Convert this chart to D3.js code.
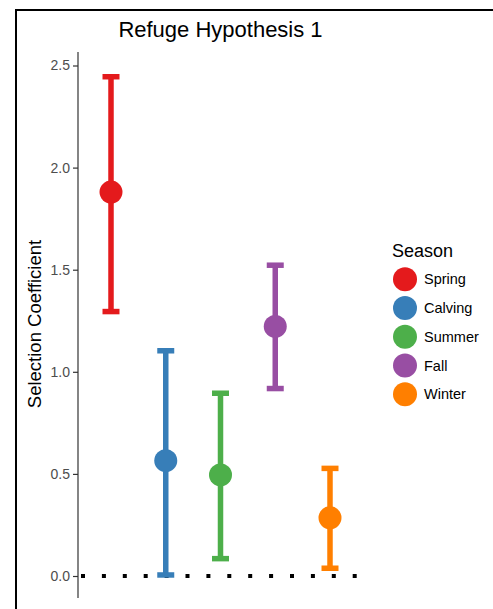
<!DOCTYPE html>
<html>
<head>
<meta charset="utf-8">
<script src="https://cdn.jsdelivr.net/npm/d3@7"></script>
<style>
  html, body { margin: 0; padding: 0; background: #fff; }
  svg { display: block; font-family: "Liberation Sans", Arial, sans-serif; }
</style>
</head>
<body>
<script>
// Selection coefficient estimates with confidence limits, by season
const seasons = ["Spring", "Calving", "Summer", "Fall", "Winter"];
const estimates = [1.88, 0.565, 0.495, 1.222, 0.285];
const lower = [1.295, 0.005, 0.085, 0.918, 0.038];
const upper = [2.445, 1.103, 0.895, 1.522, 0.527];
const seasonColors = ["#E41A1C", "#377EB8", "#4DAF4A", "#984EA3", "#FF7F00"];
const yTicks = [0.0, 0.5, 1.0, 1.5, 2.0, 2.5];

const W = 493, H = 609;
const svg = d3.select("body").append("svg").attr("width", W).attr("height", H);

// outer frame (left and top edges)
svg.append("path")
  .attr("d", `M16,${H} L16,10 L${W},10`)
  .attr("fill", "none").attr("stroke", "#000").attr("stroke-width", 2);

const x = d3.scalePoint().domain(seasons).range([111, 330]);
const y = d3.scaleLinear().domain([0, 2.5]).range([576, 65.5]);
const color = d3.scaleOrdinal().domain(seasons).range(seasonColors);

// reference line at zero
svg.append("line")
  .attr("x1", 78).attr("x2", 363)
  .attr("y1", y(0)).attr("y2", y(0))
  .attr("stroke", "#000").attr("stroke-width", 4)
  .attr("stroke-dasharray", "4,16.9")
  .attr("stroke-dashoffset", -3);

// y axis
const yAxis = d3.axisLeft(y).tickValues(yTicks).tickFormat(d3.format(".1f")).tickSize(5).tickPadding(3);
const gy = svg.append("g").attr("transform", "translate(78,0)").call(yAxis);
gy.select(".domain").attr("d", "M0,52V598").attr("stroke", "#333").attr("stroke-width", 1.2);
gy.selectAll(".tick line").attr("stroke", "#333").attr("stroke-width", 1.2);
gy.selectAll(".tick text").attr("fill", "#4d4d4d").style("font-size", "14px")
  .style("font-family", "'Liberation Sans', Arial, sans-serif");

// error bars
const data = seasons.map((s, i) => ({ s, est: estimates[i], lo: lower[i], hi: upper[i] }));
const capW = 8.5;
const g = svg.append("g");
data.forEach(d => {
  const cx = x(d.s), c = color(d.s);
  g.append("line").attr("x1", cx).attr("x2", cx).attr("y1", y(d.lo)).attr("y2", y(d.hi))
    .attr("stroke", c).attr("stroke-width", 5.5);
  [d.lo, d.hi].forEach(v => {
    g.append("line").attr("x1", cx - capW).attr("x2", cx + capW).attr("y1", y(v)).attr("y2", y(v))
      .attr("stroke", c).attr("stroke-width", 5.5);
  });
});
g.selectAll("circle").data(data).join("circle")
  .attr("cx", d => x(d.s)).attr("cy", d => y(d.est)).attr("r", 11.5)
  .attr("fill", d => color(d.s));

// title
svg.append("text").attr("x", 220.5).attr("y", 36.5).attr("text-anchor", "middle")
  .style("font-size", "22px").attr("fill", "#000").text("Refuge Hypothesis 1");

// y axis title
svg.append("text").attr("transform", "translate(41,324) rotate(-90)")
  .attr("text-anchor", "middle").style("font-size", "18.5px").attr("fill", "#000")
  .text("Selection Coefficient");

// legend
const lg = svg.append("g");
lg.append("text").attr("x", 392).attr("y", 257).style("font-size", "18px").attr("fill", "#000").text("Season");
seasons.forEach((s, i) => {
  const cy = 279.3 + i * 28.75;
  lg.append("circle").attr("cx", 405).attr("cy", cy).attr("r", 12).attr("fill", color(s));
  lg.append("text").attr("x", 424).attr("y", cy + 5).style("font-size", "14.5px").attr("fill", "#000").text(s);
});
</script>
</body>
</html>
